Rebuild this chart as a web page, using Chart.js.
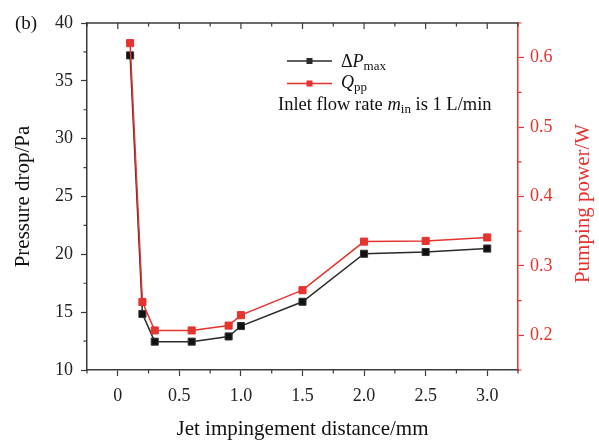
<!DOCTYPE html>
<html>
<head>
<meta charset="utf-8">
<script src="https://cdn.jsdelivr.net/npm/chart.js@4/dist/chart.umd.min.js"></script>
<style>
  html, body { margin: 0; padding: 0; background: #fff; }
  canvas { display: block; }
</style>
</head>
<body>
<canvas id="myChart" width="599" height="440"></canvas>
<script>
// data
const distance = [0.1, 0.2, 0.3, 0.6, 0.9, 1.0, 1.5, 2.0, 2.5, 3.0];
const pressureDrop = [37.2, 14.85, 12.45, 12.45, 12.9, 13.8, 15.9, 20.05, 20.2, 20.5];
const pumpingPower = [0.621, 0.248, 0.207, 0.207, 0.214, 0.229, 0.265, 0.335, 0.336, 0.341];

const xTicks = [0, 0.5, 1.0, 1.5, 2.0, 2.5, 3.0];
const yTicks = [10, 15, 20, 25, 30, 35, 40];
const y1Ticks = [0.2, 0.3, 0.4, 0.5, 0.6];
const xMinor = [-0.25, 0.25, 0.75, 1.25, 1.75, 2.25, 2.75, 3.25];
const yMinor = [12.5, 17.5, 22.5, 27.5, 32.5, 37.5];
const y1Minor = [0.15, 0.25, 0.35, 0.45, 0.55, 0.65];

const SERIF = "'Liberation Serif', 'DejaVu Serif', serif";
const INK = "#2a2a2a";
const RED = "#e5332e";
const AXIS = "#3a3a3a";

//extra drawing: frame top, minor ticks, legend, labels
const decor = {
  id: "decor",
  afterDraw(chart) {
    const ctx = chart.ctx;
    const area = chart.chartArea;
    const sx = chart.scales.x, sy = chart.scales.y, sy1 = chart.scales.y1;
    ctx.save();
    ctx.lineWidth = 1.5;
    ctx.strokeStyle = AXIS;
    // top frame line
    ctx.beginPath();
    ctx.moveTo(area.left, area.top);
    ctx.lineTo(area.right, area.top);
    ctx.stroke();

    ctx.lineWidth = 1.2;
    ctx.beginPath();
    // top axis ticks point inward
    xTicks.forEach((v) => {
      const px = sx.getPixelForValue(v);
      ctx.moveTo(px, area.top);
      ctx.lineTo(px, area.top + 6);
    });
    xMinor.forEach((v) => {
      const px = sx.getPixelForValue(v);
      ctx.moveTo(px, area.top);
      ctx.lineTo(px, area.top + 3.5);
      ctx.moveTo(px, area.bottom);
      ctx.lineTo(px, area.bottom + 3.5);
    });
    yMinor.forEach((v) => {
      const py = sy.getPixelForValue(v);
      ctx.moveTo(area.left, py);
      ctx.lineTo(area.left - 3.5, py);
    });
    ctx.stroke();

    ctx.strokeStyle = RED;
    ctx.beginPath();
    y1Minor.forEach((v) => {
      const py = sy1.getPixelForValue(v);
      ctx.moveTo(area.right, py);
      ctx.lineTo(area.right + 3.5, py);
    });
    ctx.stroke();

    // panel label
    ctx.fillStyle = "#111";
    ctx.font = "19px " + SERIF;
    ctx.textBaseline = "alphabetic";
    ctx.textAlign = "left";
    ctx.fillText("(b)", 15, 29);

    // right axis title, reading bottom to top
    ctx.save();
    ctx.translate(583, (area.top + area.bottom) / 2 + 7);
    ctx.rotate(-Math.PI / 2);
    ctx.textAlign = "center";
    ctx.textBaseline = "middle";
    ctx.fillStyle = RED;
    ctx.font = "21px " + SERIF;
    ctx.fillText("Pumping power/W", 0, 0);
    ctx.restore();

    // legend
    const lx0 = 287, lx1 = 332, mx = 309.5;
    const rows = [
      { y: 61, color: INK },
      { y: 83.5, color: RED },
    ];
    rows.forEach((r) => {
      ctx.strokeStyle = r.color;
      ctx.lineWidth = 1.5;
      ctx.beginPath();
      ctx.moveTo(lx0, r.y);
      ctx.lineTo(lx1, r.y);
      ctx.stroke();
      ctx.fillStyle = r.color;
      ctx.fillRect(mx - 3, r.y - 3, 6, 6);
    });

    ctx.fillStyle = "#111";
    ctx.textAlign = "left";
    ctx.textBaseline = "alphabetic";
    const parts1 = [
      { t: "\u0394", f: "18px " + SERIF, dy: 0 },
      { t: "P", f: "italic 18px " + SERIF, dy: 0 },
      { t: "max", f: "13px " + SERIF, dy: 3 },
    ];
    const parts2 = [
      { t: "Q", f: "italic 18px " + SERIF, dy: 0 },
      { t: "pp", f: "13px " + SERIF, dy: 3 },
    ];
    const parts3 = [
      { t: "Inlet flow rate ", f: "18.5px " + SERIF, dy: 0 },
      { t: "m", f: "italic 18.5px " + SERIF, dy: 0 },
      { t: "in", f: "13px " + SERIF, dy: 3 },
      { t: " is 1 L/min", f: "18.5px " + SERIF, dy: 0 },
    ];
    function drawParts(parts, x, y) {
      parts.forEach((p) => {
        ctx.font = p.f;
        ctx.fillText(p.t, x, y + p.dy);
        x += ctx.measureText(p.t).width;
      });
    }
    drawParts(parts1, 341, 67);
    drawParts(parts2, 341, 88);
    drawParts(parts3, 278, 110);
    ctx.restore();
  },
};

const config = {
  type: "line",
  data: {
    datasets: [
      {
        label: "Qpp",
        data: distance.map((d, i) => ({ x: d, y: pumpingPower[i] })),
        yAxisID: "y1",
        borderColor: RED,
        backgroundColor: RED,
        borderWidth: 1.5,
        pointStyle: "rect",
        pointRadius: 5,
        pointBorderWidth: 1,
        pointBorderColor: RED,
        order: 0,
      },
      {
        label: "dPmax",
        data: distance.map((d, i) => ({ x: d, y: pressureDrop[i] })),
        yAxisID: "y",
        borderColor: INK,
        backgroundColor: "#111",
        borderWidth: 1.5,
        pointStyle: "rect",
        pointRadius: 5,
        pointBorderWidth: 1,
        pointBorderColor: "#333",
        order: 1,
      },
    ],
  },
  options: {
    responsive: false,
    animation: false,
    layout: { padding: { top: 23, left: 0, right: 0, bottom: 0 } },
    plugins: {
      legend: { display: false },
      tooltip: { enabled: false },
    },
    scales: {
      x: {
        type: "linear",
        position: "bottom",
        min: -0.25,
        max: 3.25,
        afterBuildTicks: (s) => { s.ticks = xTicks.map((v) => ({ value: v })); },
        afterFit: (s) => { s.height = 70; },
        grid: { drawOnChartArea: false, drawTicks: true, tickLength: 6, tickColor: AXIS, tickWidth: 1.2 },
        border: { display: true, color: AXIS, width: 1.5 },
        ticks: {
          color: "#222",
          font: { family: SERIF, size: 18 },
          padding: 9,
          maxRotation: 0,
          callback: (v) => (v === 0 ? "0" : Number(v).toFixed(1)),
        },
        title: {
          display: true,
          text: "Jet impingement distance/mm",
          color: "#111",
          font: { family: SERIF, size: 21, lineHeight: 1 },
          padding: { top: 0, bottom: 0 },
        },
      },
      y: {
        type: "linear",
        position: "left",
        min: 10,
        max: 40,
        afterBuildTicks: (s) => { s.ticks = yTicks.map((v) => ({ value: v })); },
        afterFit: (s) => { s.width = 87; },
        grid: { drawOnChartArea: false, drawTicks: true, tickLength: 6, tickColor: AXIS, tickWidth: 1.2 },
        border: { display: true, color: AXIS, width: 1.5 },
        ticks: {
          color: "#222",
          font: { family: SERIF, size: 18 },
          padding: 8,
        },
        title: {
          display: true,
          text: "Pressure drop/Pa",
          color: "#111",
          font: { family: SERIF, size: 21 },
          padding: { top: 11, bottom: 0 },
        },
      },
      y1: {
        type: "linear",
        position: "right",
        min: 0.15,
        max: 0.65,
        afterBuildTicks: (s) => { s.ticks = y1Ticks.map((v) => ({ value: v })); },
        afterFit: (s) => { s.width = 81; },
        grid: { drawOnChartArea: false, drawTicks: true, tickLength: 6, tickColor: RED, tickWidth: 1.2 },
        border: { display: true, color: RED, width: 1.5 },
        ticks: {
          color: RED,
          font: { family: SERIF, size: 18 },
          padding: 6,
          callback: (v) => Number(v).toFixed(1),
        },
      },
    },
  },
  plugins: [decor],
};

const myChart = new Chart(document.getElementById("myChart"), config);
</script>
</body>
</html>
